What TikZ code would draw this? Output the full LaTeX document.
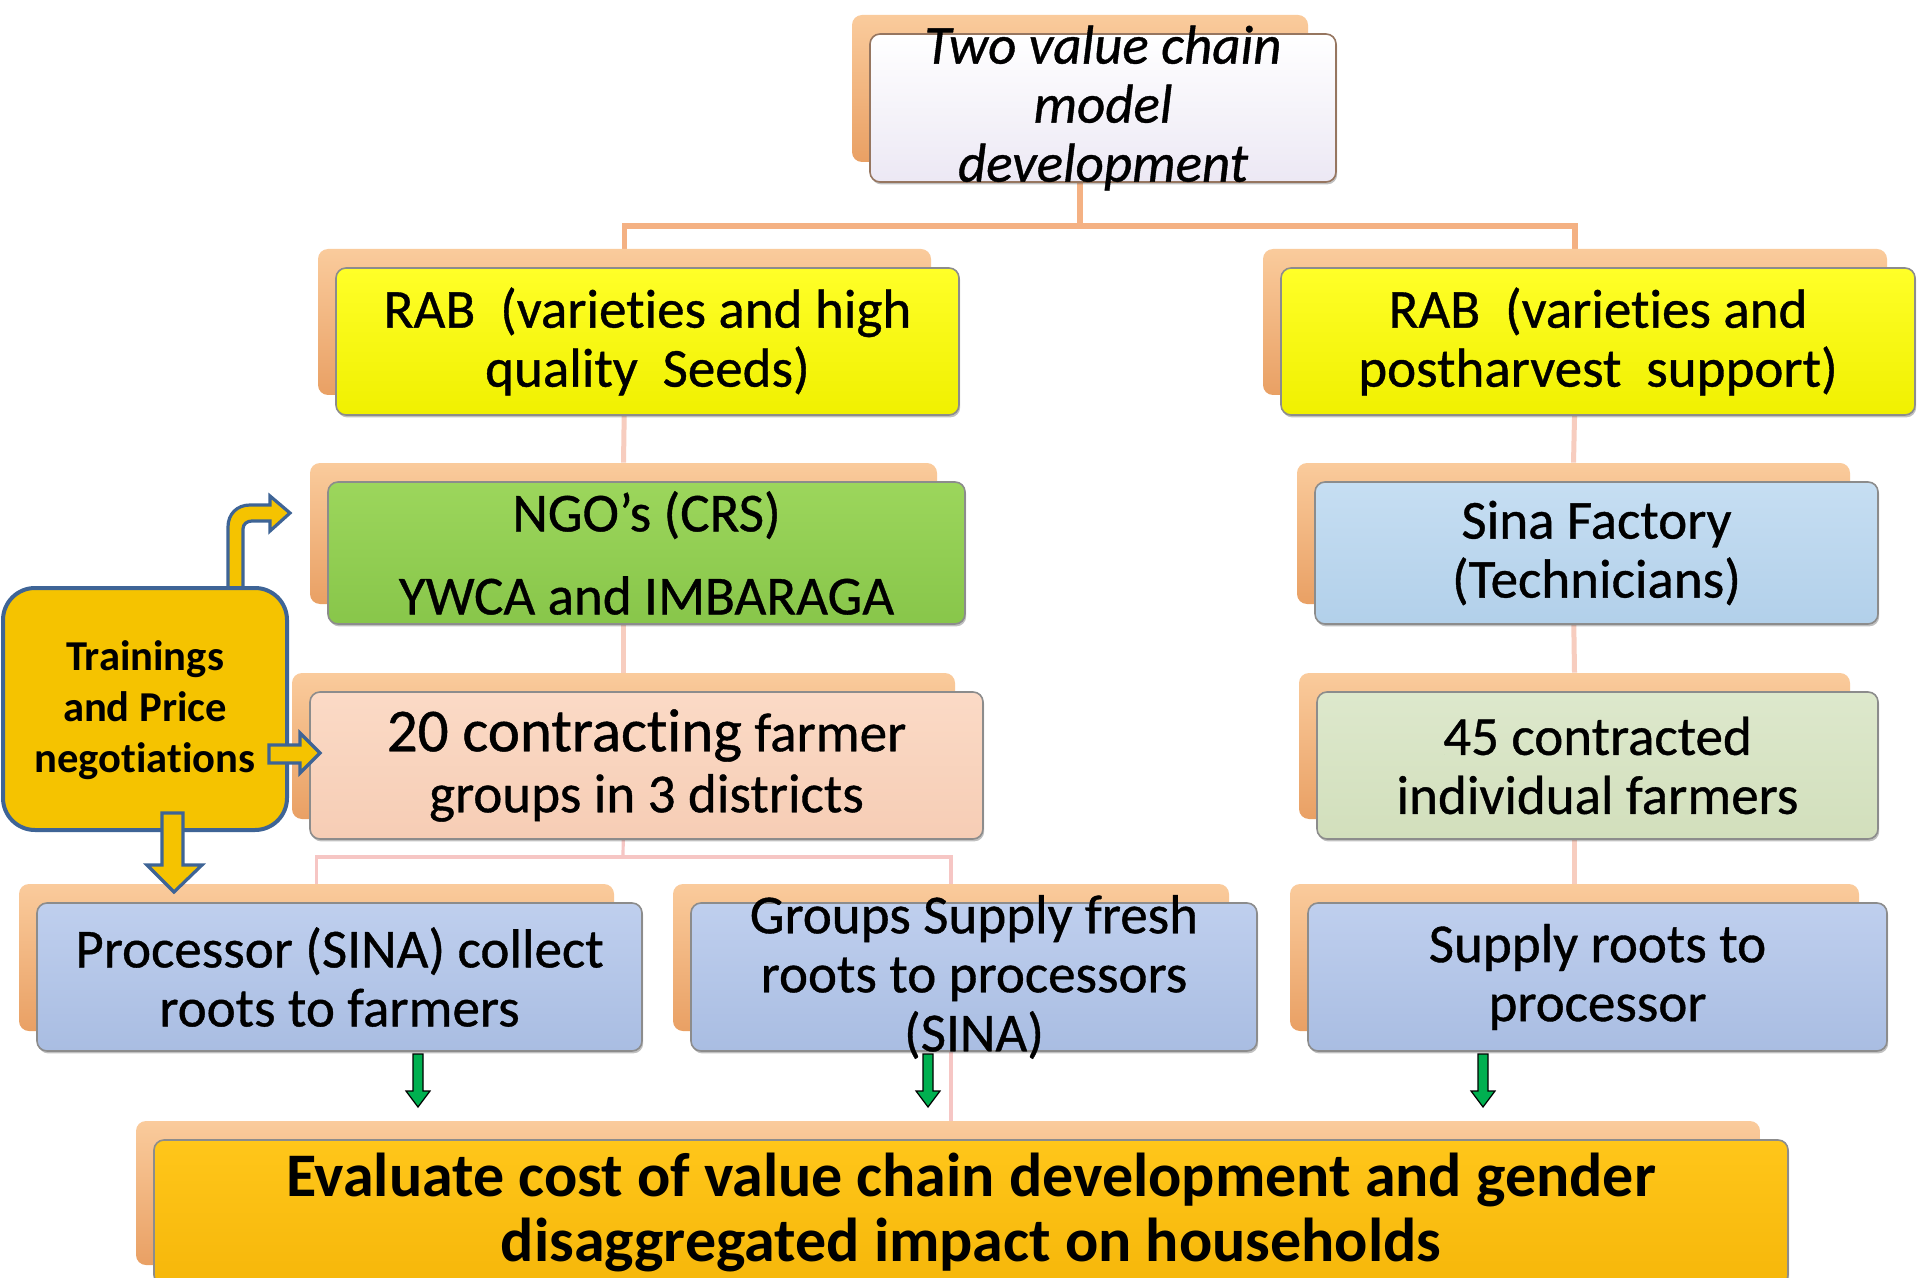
\documentclass[tikz,border=0pt]{standalone}
\usepackage{fontspec}
\setmainfont{Carlito}[Ligatures={TeX,NoCommon}]
\newfontfamily\heavyface{Carlito}[Ligatures={TeX,NoCommon},FakeBold=0.7]
\usetikzlibrary{fit,shadows}
\pgfdeclarelayer{paper}
\pgfdeclarelayer{lines}
\pgfdeclarelayer{backs}
\pgfsetlayers{paper,lines,backs,main}

\definecolor{backhi}{HTML}{FACB9C}
\definecolor{backlo}{HTML}{E9A064}
\definecolor{linetop}{HTML}{F4B183}
\definecolor{linecol}{HTML}{F7CDBF}
\definecolor{linelow}{HTML}{F6C6C4}
\definecolor{trainfill}{HTML}{F5C300}
\definecolor{trainedge}{HTML}{3E6496}
\definecolor{arrowgreen}{HTML}{00B050}

\tikzset{
  backbox/.style={rounded corners=5pt, inner sep=0pt, top color=backhi, bottom color=backlo, draw=none},
  frontbox/.style={rounded corners=5pt, inner sep=0pt, draw=black!45, line width=0.8pt,
    drop shadow={shadow xshift=0.6pt, shadow yshift=-1.2pt, opacity=0.35, fill=black!70}},
  whitefill/.style={top color=white, bottom color={rgb,255:red,236;green,232;blue,244}, draw={rgb,255:red,150;green,118;blue,96}},
  yellowfill/.style={top color={rgb,255:red,255;green,255;blue,40}, bottom color={rgb,255:red,240;green,240;blue,0}},
  greenfill/.style={top color={rgb,255:red,156;green,214;blue,92}, bottom color={rgb,255:red,136;green,198;blue,74}},
  skyfill/.style={top color={rgb,255:red,198;green,222;blue,242}, bottom color={rgb,255:red,178;green,208;blue,234}},
  peachfill/.style={top color={rgb,255:red,251;green,218;blue,198}, bottom color={rgb,255:red,246;green,205;blue,181}},
  sagefill/.style={top color={rgb,255:red,221;green,232;blue,204}, bottom color={rgb,255:red,210;green,223;blue,188}},
  bluefill/.style={top color={rgb,255:red,191;green,207;blue,238}, bottom color={rgb,255:red,169;green,189;blue,226}},
  goldfill/.style={top color={rgb,255:red,255;green,198;blue,26}, bottom color={rgb,255:red,246;green,183;blue,10}},
  boxtext/.style={align=center, inner sep=0pt, text=black, font=\heavyface\fontsize{27.5}{29.5}\selectfont},
  italictext/.style={font=\heavyface\itshape\fontsize{27.5}{29.5}\selectfont},
  evaltext/.style={font=\bfseries\fontsize{31}{32.8}\selectfont},
  topline/.style={draw=linetop, line width=2.8pt},
  colline/.style={draw=linecol, line width=2.5pt},
  lowline/.style={draw=linelow, line width=1.6pt},
  blockarrow/.style={fill=trainfill, draw=trainedge, line width=1.6pt, line join=miter},
  greenarrow/.style={fill=arrowgreen, draw=black, line width=0.6pt, line join=miter},
  trainbox/.style={rounded corners=16pt, inner sep=0pt, fill=trainfill, draw=trainedge, line width=2pt},
}

% box with an extruded back plate: name, x1, y1, x2, y2, fill style, text options, text
\newcommand\platebox[8]{%
  \begin{pgfonlayer}{backs}
    \node[backbox, fit={(#2-18,#3-19) (#4-28,#5-20)}] (b#1) {};
  \end{pgfonlayer}
  \node[frontbox, #6, fit={(#2,#3) (#4,#5)}] (f#1) {};
  \node[boxtext, #7] (t#1) at (f#1.center) {#8};
}

% small green down arrow: name, x
\newcommand\downgreen[2]{%
  \coordinate (#1) at (#2,1054);
  \filldraw[greenarrow] (#2-5,1054) -- (#2+5,1054) -- (#2+5,1091) -- (#2+12,1091)
    -- (#2,1107) -- (#2-12,1091) -- (#2-5,1091) -- cycle;
}

\begin{document}
\begin{tikzpicture}[x=0.5pt,y=-0.5pt]
\useasboundingbox (0,0) rectangle (1927,1278);
\begin{pgfonlayer}{paper}
  \fill[white] (0,0) rectangle (1927,1278);
\end{pgfonlayer}

% boxes
\platebox{top}{870}{34}{1336}{182}{whitefill}{italictext}{Two value chain\\model\\development}
\platebox{rabl}{336}{268}{959}{415}{yellowfill}{}{RAB\ \ (varieties and high\\quality\ \ Seeds)}
\platebox{rabr}{1281}{268}{1915}{415}{yellowfill}{}{RAB\ \ (varieties and\\postharvest\ \ support)}
\platebox{ngo}{328}{482}{965}{624}{greenfill}{}{NGO's (CRS)\\[12pt]YWCA and IMBARAGA}
\platebox{sina}{1315}{482}{1878}{624}{skyfill}{}{Sina Factory\\(Technicians)}
\platebox{grp}{310}{692}{983}{839}{peachfill}{}{{\fontsize{30.5}{33}\selectfont 20 contracting} farmer\\[1pt]groups in 3 districts}
\platebox{ind}{1317}{692}{1878}{839}{sagefill}{}{45 contracted\\individual farmers}
\platebox{proc}{37}{903}{642}{1051}{bluefill}{}{Processor (SINA) collect\\roots to farmers}
\platebox{fresh}{691}{903}{1257}{1051}{bluefill}{}{Groups Supply fresh\\roots to processors\\(SINA)}
\platebox{sup}{1308}{903}{1887}{1051}{bluefill}{}{Supply roots to\\processor}
\platebox{eval}{154}{1140}{1788}{1285}{goldfill}{evaltext}{Evaluate cost of value chain development and gender\\disaggregated impact on households}

% connectors behind the boxes
\coordinate (hy1) at (1080,226);
\coordinate (hy2) at (623,857);
\begin{pgfonlayer}{lines}
  \draw[topline] (btop.south) -- (btop.south |- hy1);
  \draw[topline] (brabl.north) |- (hy1) -| (brabr.north);
  \draw[colline] (brabl.south) -- (bngo.north);
  \draw[colline] (bngo.south) -- (bgrp.north);
  \draw[colline] (brabr.south) -- (bsina.north);
  \draw[colline] (bsina.south) -- (bind.north);
  \draw[colline] (bind.south) -- (bsup.north);
  \draw[lowline] (bgrp.south) -- (hy2);
  \draw[lowline] (bproc.north) |- (hy2) -| (bfresh.north);
  \draw[lowline] (bfresh.north) -- (bfresh.north |- beval.north);
\end{pgfonlayer}

% green arrows into the evaluation box
\downgreen{ga1}{418}
\downgreen{ga2}{928}
\downgreen{ga3}{1483}

% trainings box and its three block arrows
\filldraw[blockarrow] (228,600) -- (228,527) .. controls (228,514) and (237,505) .. (250,505)
  -- (270,505) -- (270,496) -- (290,513) -- (270,531) -- (270,521) -- (252,521)
  .. controls (247,521) and (243,524) .. (243,529) -- (243,600) -- cycle;
\node[trainbox, fit={(3,588) (287,830)}] (train) {};
\node[align=center, inner sep=0pt, font=\bfseries\fontsize{21.3}{25.5}\selectfont] (ttrain) at (145,710)
  {Trainings\\and Price\\negotiations};
\filldraw[blockarrow] (269,745) -- (300,745) -- (300,733) -- (320,753) -- (300,773)
  -- (300,763) -- (269,763) -- cycle;
\filldraw[blockarrow] (162,813) -- (183,813) -- (183,865) -- (202,865) -- (174,892)
  -- (147,865) -- (162,865) -- cycle;
\end{tikzpicture}
\end{document}
